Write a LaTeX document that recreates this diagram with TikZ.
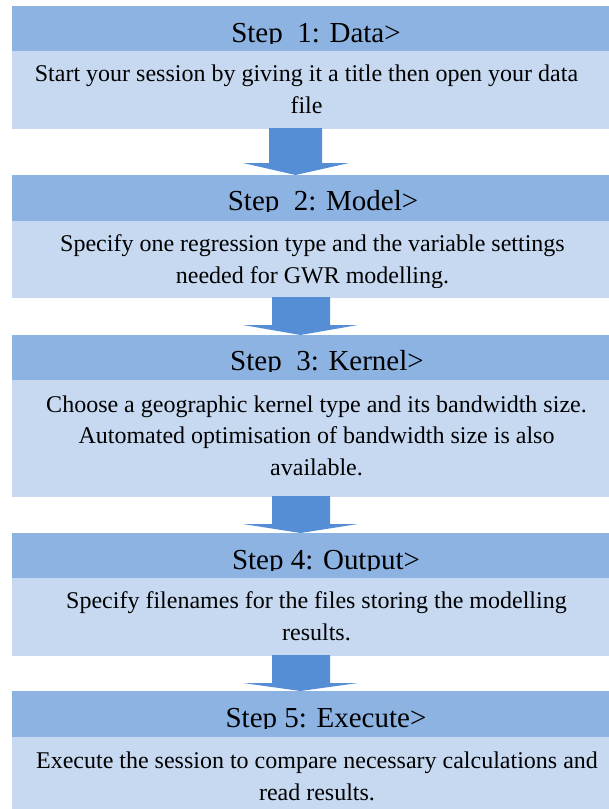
\documentclass[tikz,border=0pt]{standalone}
\usepackage{fontspec}
\setmainfont{Liberation Serif}
\usetikzlibrary{calc}

\definecolor{headfill}{HTML}{8DB3E2}
\definecolor{bodyfill}{HTML}{C6D9F1}
\definecolor{arrowfill}{HTML}{558ED5}

\tikzset{
  headbox/.style={fill=headfill, draw=none, anchor=north west, minimum width=597pt, inner sep=0pt, outer sep=0pt},
  bodybox/.style={fill=bodyfill, draw=none, anchor=north west, minimum width=597pt, inner sep=0pt, outer sep=0pt},
  headtext/.style={anchor=base, inner sep=0pt, font=\fontsize{29}{34}\selectfont},
  % base anchor of a multi-line node sits on its last line
  bodytext/.style={anchor=base, inner sep=0pt, align=center, font=\fontsize{24}{31.5}\selectfont},
  blockarrow/.style={fill=arrowfill, draw=none}
}

\begin{document}
\begin{tikzpicture}[x=1pt, y=-1pt]
\useasboundingbox (0,0) rectangle (609,809);

% block arrows between the steps (drawn first, behind the boxes)
\coordinate (a1) at (295.5,128);
\coordinate (a2) at (300.5,297);
\coordinate (a3) at (300.5,496);
\coordinate (a4) at (300.5,655);

% step boxes: header band and description band
\node[headbox, minimum height=45pt] (h1) at (12,6) {};
\node[bodybox, minimum height=78pt] (b1) at (12,51) {};
\node[headbox, minimum height=46pt] (h2) at (12,175) {};
\node[bodybox, minimum height=77pt] (b2) at (12,221) {};
\node[headbox, minimum height=45pt] (h3) at (12,335) {};
\node[bodybox, minimum height=117pt] (b3) at (12,380) {};
\node[headbox, minimum height=45pt] (h4) at (12,533) {};
\node[bodybox, minimum height=78pt] (b4) at (12,578) {};
\node[headbox, minimum height=46pt] (h5) at (12,691) {};
\node[bodybox, minimum height=72pt] (b5) at (12,737) {};

% arrow from step 1 to step 2
\fill[blockarrow] ($(a1)+(-26.5,0)$) -- ($(a1)+(26.5,0)$) -- ($(a1)+(26.5,35)$)
  -- ($(a1)+(53.5,35)$) -- (a1 |- h2.north) -- ($(a1)+(-52.5,35)$)
  -- ($(a1)+(-26.5,35)$) -- cycle;
% arrows from step 2 to 3, 3 to 4, 4 to 5
\foreach \a/\h in {a2/h3, a3/h4, a4/h5}{
  \fill[blockarrow] ($(\a)+(-28.5,0)$) -- ($(\a)+(29.5,0)$) -- ($(\a)+(29.5,28)$)
    -- ($(\a)+(57.5,28)$) -- (\a |- \h.north) -- ($(\a)+(-57.5,28)$)
    -- ($(\a)+(-28.5,28)$) -- cycle;
}

% step titles, cut off just below the baseline
\begin{scope}
  \clip (12,6) rectangle (609,43);
  \node[headtext] (t1) at (316,42) {Step~~1: Data>};
\end{scope}
\begin{scope}
  \clip (12,175) rectangle (609,211);
  \node[headtext] (t2) at (323,210) {Step~~2: Model>};
\end{scope}
\begin{scope}
  \clip (12,335) rectangle (609,371);
  \node[headtext] (t3) at (327,370) {Step~~3: Kernel>};
\end{scope}
\begin{scope}
  \clip (12,533) rectangle (609,570);
  \node[headtext] (t4) at (326,569) {Step 4: Output>};
\end{scope}
\begin{scope}
  \clip (12,691) rectangle (609,728);
  \node[headtext] (t5) at (326,727) {Step 5: Execute>};
\end{scope}

% step descriptions
\begin{scope}
  \clip (12,51) rectangle (609,118);
  \node[bodytext] (d1) at (306.5,113) {Start your session by giving it a title then open your data\\file};
\end{scope}
\begin{scope}
  \clip (12,221) rectangle (609,287);
  \node[bodytext] (d2) at (312.5,283) {Specify one regression type and the variable settings\\needed for GWR modelling.};
\end{scope}
\begin{scope}
  \clip (12,380) rectangle (609,486);
  \node[bodytext] (d3) at (316.5,475) {Choose a geographic kernel type and its bandwidth size.\\Automated optimisation of bandwidth size is also\\available.};
\end{scope}
\begin{scope}
  \clip (12,578) rectangle (609,650);
  \node[bodytext] (d4) at (316.5,640) {Specify filenames for the files storing the modelling\\results.};
\end{scope}
\begin{scope}
  \clip (12,737) rectangle (609,809);
  \node[bodytext] (d5) at (317,800) {Execute the session to compare necessary calculations and\\read results.};
\end{scope}
\end{tikzpicture}
\end{document}
